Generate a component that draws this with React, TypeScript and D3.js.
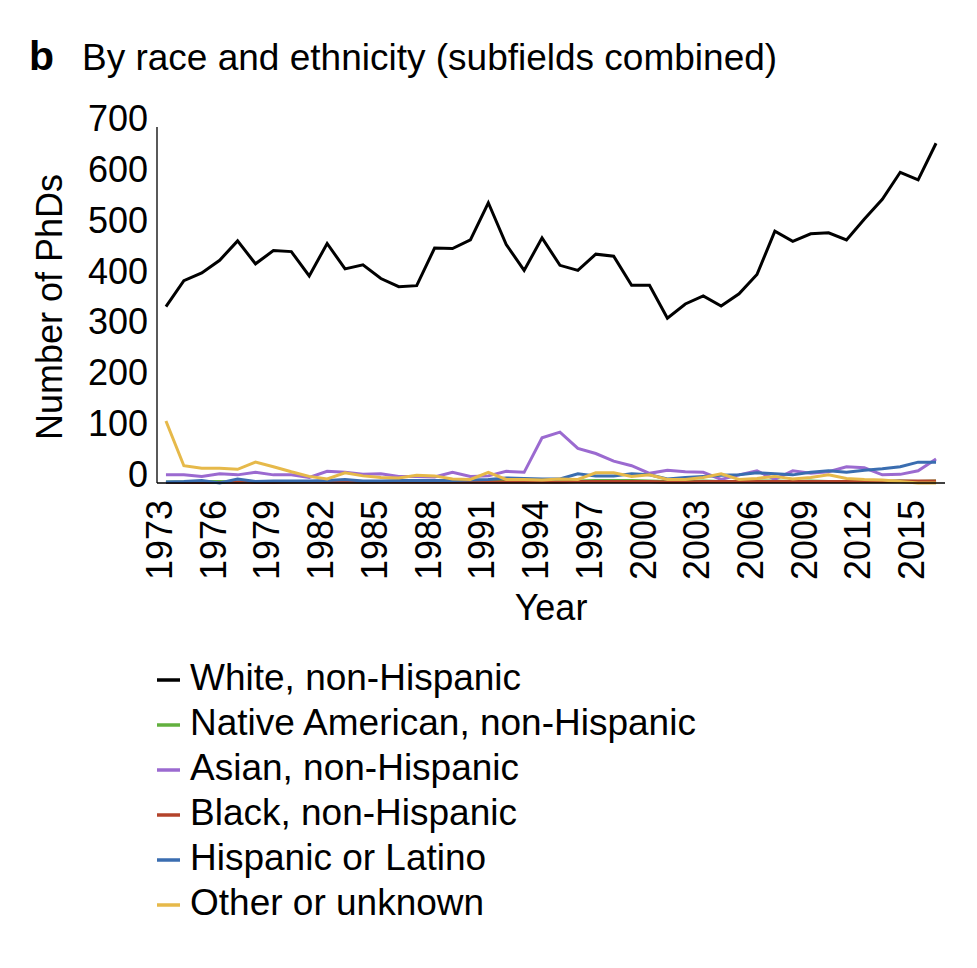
import React from "react";
import * as d3 from "d3";

const years: number[] = d3.range(1973, 2017);
const tickYears: number[] = [1973, 1976, 1979, 1982, 1985, 1988, 1991, 1994, 1997, 2000, 2003, 2006, 2009, 2012, 2015];
const yTicks: number[] = [0, 100, 200, 300, 400, 500, 600, 700];

const white = [347, 398, 413, 438, 476, 431, 457, 455, 407, 471, 421, 429, 402, 386, 388, 462, 461, 478, 551, 469, 418, 482, 428, 418, 450, 446, 389, 389, 324, 352, 368, 348, 372, 410, 495, 475, 490, 492, 478, 519, 558, 611, 596, 668];
const native = [2, 2, 3, 3, 2, 3, 3, 2, 3, 3, 3, 2, 3, 3, 3, 3, 4, 3, 3, 4, 3, 3, 4, 4, 5, 5, 5, 4, 3, 3, 4, 3, 3, 4, 4, 3, 4, 3, 3, 3, 3, 4, 3, 4];
const asian = [16, 16, 13, 18, 16, 21, 16, 16, 11, 23, 21, 17, 18, 13, 13, 12, 21, 13, 14, 23, 21, 89, 100, 68, 58, 43, 34, 19, 25, 22, 21, 7, 16, 24, 7, 24, 19, 22, 32, 30, 16, 17, 24, 47];
const black = [1, 1, 1, 1, 2, 1, 1, 2, 2, 2, 2, 2, 2, 2, 2, 2, 2, 2, 2, 2, 2, 2, 2, 3, 3, 3, 3, 3, 2, 2, 3, 3, 3, 3, 3, 3, 3, 3, 3, 4, 3, 4, 4, 4];
const hispanic = [2, 3, 5, 0, 8, 3, 4, 4, 4, 5, 7, 4, 4, 5, 5, 5, 5, 6, 7, 10, 9, 8, 8, 18, 14, 14, 18, 16, 8, 11, 13, 15, 16, 20, 18, 16, 21, 24, 21, 25, 28, 32, 41, 41];
const other = [122, 34, 29, 29, 27, 41, 32, 22, 13, 8, 20, 14, 11, 10, 15, 14, 8, 7, 21, 7, 7, 6, 8, 7, 20, 20, 13, 16, 7, 7, 11, 18, 7, 9, 13, 8, 11, 16, 9, 7, 6, 3, 0, 0];

const seriesNames = ["White, non-Hispanic", "Native American, non-Hispanic", "Asian, non-Hispanic", "Black, non-Hispanic", "Hispanic or Latino", "Other or unknown"];
const seriesColors = ["#000000", "#62b03e", "#9b6ad0", "#b3432b", "#3a6db0", "#e6b94a"];
const seriesValues = [white, native, asian, black, hispanic, other];

const FONT = "'Liberation Sans', Arial, Helvetica, sans-serif";

export default function App() {
  const W = 977, H = 968;
  const x0 = 157, x1 = 945, yTop = 127, yBot = 483;
  const x = d3.scaleBand<number>().domain(years).range([x0, x1]);
  const cx = (yr: number) => (x(yr) as number) + x.bandwidth() / 2;
  const y = d3.scaleLinear().domain([0, 700]).range([yBot, yTop]);
  const line = d3.line<number>().x((_, i) => cx(years[i])).y((v) => y(v));

  return (
    <svg width={W} height={H} style={{ display: "block", position: "absolute", left: 0, top: 0, background: "#fff" }} fontFamily={FONT}>
      <rect width={W} height={H} fill="#fff" />
      <text x={29} y={70} fontSize={41} fontWeight="bold" fill="#000">b</text>
      <text x={82} y={70} fontSize={37} fill="#000">By race and ethnicity (subfields combined)</text>

      {yTicks.map((t) => (
        <text key={t} x={148} y={y(t) + 4} fontSize={36} textAnchor="end" fill="#000">{t}</text>
      ))}
      <text transform={`translate(62,307) rotate(-90)`} fontSize={36} textAnchor="middle" fill="#000">Number of PhDs</text>

      {tickYears.map((t) => (
        <text key={t} transform={`translate(${cx(t) + 6},500) rotate(-90)`} fontSize={36} textAnchor="end" fill="#000">{t}</text>
      ))}
      <text x={551} y={620} fontSize={36} textAnchor="middle" fill="#000">Year</text>

      {seriesValues.map((vals, k) => (
        <path key={k} d={line(vals) as string} fill="none" stroke={seriesColors[k]} strokeWidth={3} strokeLinejoin="miter" />
      ))}

      <line x1={x0} x2={x0} y1={yTop} y2={yBot} stroke="#000" strokeWidth={1.3} />
      <line x1={x0} x2={x1} y1={yBot} y2={yBot} stroke="#000" strokeWidth={1.3} />

      {seriesNames.map((name, k) => (
        <g key={name}>
          <line x1={157} x2={180} y1={690 + k * 45 - 10} y2={690 + k * 45 - 10} stroke={seriesColors[k]} strokeWidth={3.5} />
          <text x={190} y={690 + k * 45} fontSize={37} fill="#000">{name}</text>
        </g>
      ))}
    </svg>
  );
}
